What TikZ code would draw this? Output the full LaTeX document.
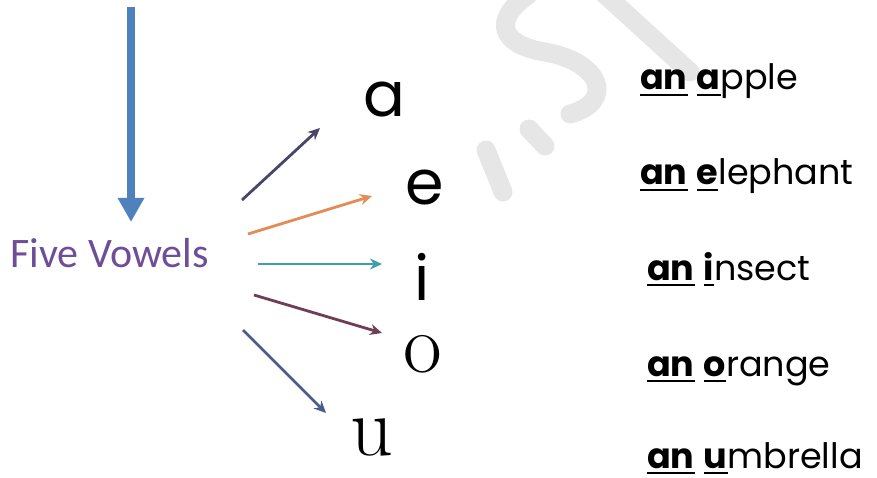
\documentclass[tikz,border=0pt]{standalone}
\usepackage{fontspec}
\usepackage{tikz}
\usetikzlibrary{arrows.meta,positioning}
\newfontfamily\comicfont{Poppins}
\newfontfamily\titlefont{Carlito}
\definecolor{vblue}{RGB}{79,129,189}
\definecolor{vpurple}{RGB}{110,78,150}
\definecolor{cA}{RGB}{72,70,105}
\definecolor{cE}{RGB}{228,140,85}
\definecolor{cI}{RGB}{62,158,172}
\definecolor{cO}{RGB}{112,62,84}
\definecolor{cU}{RGB}{72,92,140}
\definecolor{wmark}{RGB}{230,230,230}
% bold + thick underline
\newcommand{\vwl}[1]{\setbox0\hbox{\bfseries #1}\rlap{\rule[-0.18em]{\wd0}{0.07em}}\box0\relax}

\begin{document}
\begin{tikzpicture}[
  x=1pt, y=-1pt,
  down/.style={-{Triangle[length=24pt,width=25pt]}, line width=7.5pt, draw=vblue},
  fan/.style={-{Stealth[length=12pt,width=11pt]}, line width=2.8pt},
  wm/.style={line width=19pt, draw=wmark, line cap=round},
  big/.style={anchor=base west, inner sep=0pt, font=\comicfont\fontsize{62}{62}\selectfont},
  bigser/.style={anchor=base west, inner sep=0pt, font=\fontsize{84}{84}\selectfont},
  word/.style={anchor=base west, inner sep=0pt, font=\comicfont\fontsize{35}{35}\selectfont},
]
\useasboundingbox (0,0) rectangle (877,478);
% ---------------- watermark ----------------
\draw[wm] (600,-10) -- (690,72);
\draw[wm] (528,-5) .. controls (492,20) and (500,45) .. (545,52)
          .. controls (602,62) and (615,102) .. (570,114);
\draw[wm] (529,129) -- (545,146);
\draw[wm] (486,150) -- (503,192);
% ---------------- left: five vowels ----------------
\node[anchor=base west, inner sep=0pt, text=vpurple,
      font=\titlefont\fontsize{42}{42}\selectfont] (fv) at (10,267) {Five Vowels};
\coordinate (src) at (131,7);
\coordinate (dst) at (131,222);
\draw[down] (src) -- (dst);
% ---------------- vowels ----------------
\node[big] (va) at (363,117) {a};
\node[big] (ve) at (405,205) {e};
\node[big] (vi) at (414,300) {i};
\node[bigser] (vo) at (403,372) {o};
\node[bigser] (vu) at (350,455) {u};
% fan of arrows
\coordinate (ta) at (242,200); \coordinate (ha) at (320,128);
\coordinate (te) at (248,234); \coordinate (he) at (372,196);
\coordinate (ti) at (258,264); \coordinate (hi) at (382,264);
\coordinate (to) at (254,295); \coordinate (ho) at (382,333);
\coordinate (tu) at (243,330); \coordinate (hu) at (326,413);
\draw[fan, cA] (ta) -- (ha);
\draw[fan, cE] (te) -- (he);
\draw[fan, cI] (ti) -- (hi);
\draw[fan, cO] (to) -- (ho);
\draw[fan, cU] (tu) -- (hu);
% ---------------- words ----------------
\node[word] (wa) at (640,90)  {\vwl{an} \vwl{a}pple};
\node[word] (we) at (640,185) {\vwl{an} \vwl{e}lephant};
\node[word] (wi) at (647,280) {\vwl{an} \vwl{i}nsect};
\node[word] (wo) at (647,376) {\vwl{an} \vwl{o}range};
\node[word] (wu) at (647,468) {\vwl{an} \vwl{u}mbrella};
\end{tikzpicture}
\end{document}
